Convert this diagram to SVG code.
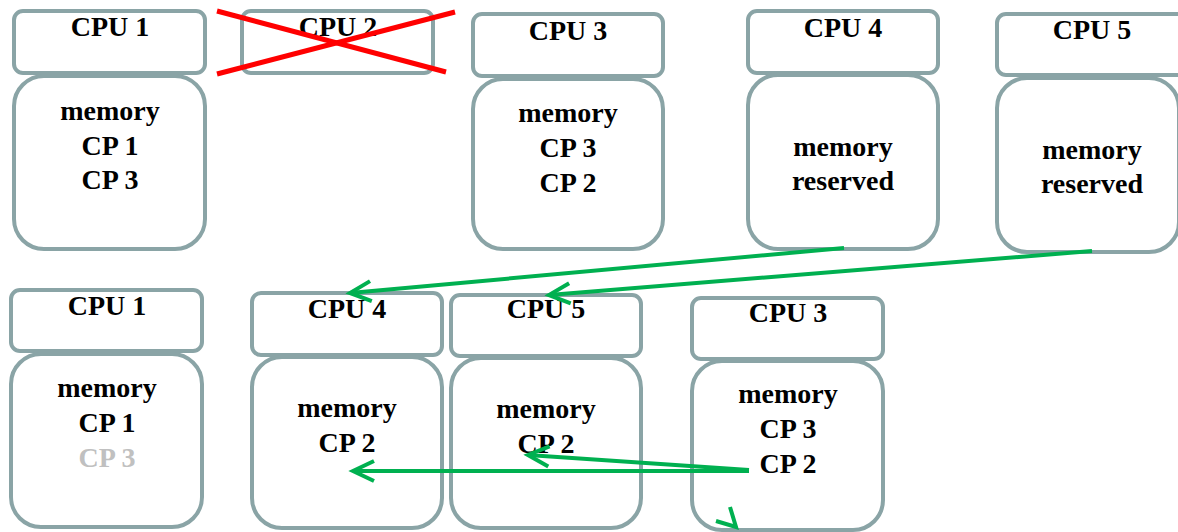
<svg xmlns="http://www.w3.org/2000/svg" width="1178" height="532" viewBox="0 0 1178 532">
<style>
.hd{fill:#fff;stroke:#8aa4a6;stroke-width:4}
.mem{fill:#fff;stroke:#8aa4a6;stroke-width:4}
text{font-family:"Liberation Serif","Times New Roman",serif;font-weight:bold;font-size:28px;text-anchor:middle;fill:#000}
.gray{fill:#c0c0c0}
.conn{stroke:#00b050;stroke-width:4;fill:none}
.cross{stroke:#ff0000;stroke-width:5}
</style>
<defs>
<marker id="arr" markerUnits="userSpaceOnUse" viewBox="-26 -14 30 28" refX="0" refY="0" markerWidth="30" markerHeight="28" orient="auto" overflow="visible">
<path d="M -21 -10 L 0 0 L -21 10" fill="none" stroke="#00b050" stroke-width="4"/>
</marker>
</defs>

<g id="top-cpu1">
<rect class="hd" x="14" y="11" width="191" height="62" rx="9"/>
<rect class="mem" x="14" y="76" width="191" height="173" rx="30"/>
<text x="110" y="36">CPU 1</text>
<text x="110" y="120">memory</text>
<text x="110" y="155">CP 1</text>
<text x="110" y="189">CP 3</text>
</g>

<g id="top-cpu2">
<rect class="hd" x="242" y="11" width="191" height="62" rx="9"/>
<text x="338" y="36">CPU 2</text>
<line class="cross" x1="217" y1="11" x2="446" y2="72"/>
<line class="cross" x1="217" y1="74" x2="455" y2="12"/>
</g>

<g id="top-cpu3">
<rect class="hd" x="473" y="14" width="190" height="62" rx="9"/>
<rect class="mem" x="473" y="79" width="190" height="170" rx="30"/>
<text x="568" y="40">CPU 3</text>
<text x="568" y="122">memory</text>
<text x="568" y="157">CP 3</text>
<text x="568" y="192">CP 2</text>
</g>

<g id="top-cpu4">
<rect class="hd" x="748" y="11" width="190" height="62" rx="9"/>
<rect class="mem" x="748" y="75" width="190" height="174" rx="30"/>
<text x="843" y="37">CPU 4</text>
<text x="843" y="156">memory</text>
<text x="843" y="190">reserved</text>
</g>

<g id="top-cpu5">
<rect class="hd" x="997" y="14" width="190" height="61" rx="9"/>
<rect class="mem" x="997" y="78" width="182" height="174" rx="30"/>
<text x="1092" y="39">CPU 5</text>
<text x="1092" y="159">memory</text>
<text x="1092" y="193">reserved</text>
</g>

<g id="bot-cpu1">
<rect class="hd" x="11" y="290" width="191" height="61" rx="9"/>
<rect class="mem" x="11" y="354" width="191" height="173" rx="30"/>
<text x="107" y="315">CPU 1</text>
<text x="107" y="397">memory</text>
<text x="107" y="432">CP 1</text>
<text class="gray" x="107" y="467">CP 3</text>
</g>

<g id="bot-cpu4">
<rect class="hd" x="252" y="293" width="190" height="62" rx="9"/>
<rect class="mem" x="252" y="357" width="190" height="171" rx="30"/>
<text x="347" y="318">CPU 4</text>
<text x="347" y="417">memory</text>
<text x="347" y="452">CP 2</text>
</g>

<g id="bot-cpu5">
<rect class="hd" x="451" y="295" width="190" height="61" rx="9"/>
<rect class="mem" x="451" y="358" width="190" height="170" rx="30"/>
<text x="546" y="318">CPU 5</text>
<text x="546" y="418">memory</text>
<text x="546" y="453">CP 2</text>
</g>

<g id="bot-cpu3">
<rect class="hd" x="692" y="298" width="191" height="61" rx="9"/>
<rect class="mem" x="692" y="361" width="191" height="169" rx="30"/>
<text x="788" y="322">CPU 3</text>
<text x="788" y="403">memory</text>
<text x="788" y="438">CP 3</text>
<text x="788" y="473">CP 2</text>
</g>

<g id="connectors">
<line class="conn" x1="844" y1="248" x2="350" y2="293" marker-end="url(#arr)"/>
<line class="conn" x1="1092" y1="251" x2="549" y2="295" marker-end="url(#arr)"/>
<line class="conn" x1="749" y1="471" x2="353" y2="471" marker-end="url(#arr)"/>
<line class="conn" x1="749" y1="470" x2="528" y2="455" marker-end="url(#arr)"/>
<polyline class="conn" points="730,507 736,527 716,521"/>
</g>
</svg>
